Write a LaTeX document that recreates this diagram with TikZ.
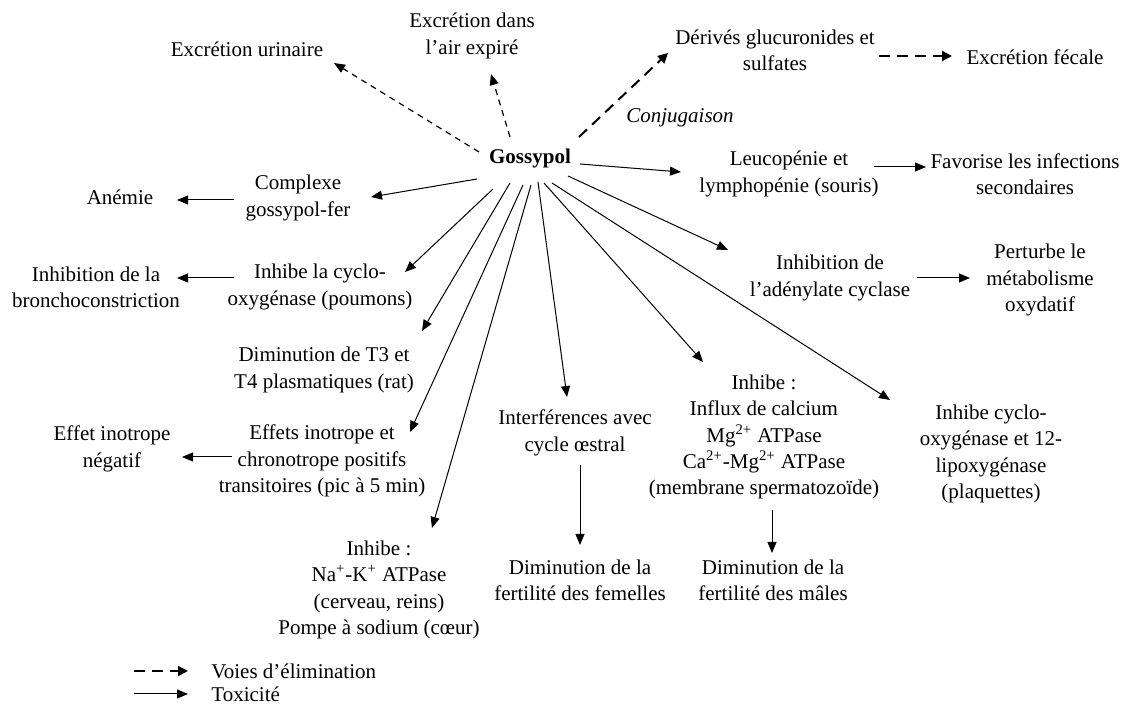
\documentclass[tikz,border=0pt]{standalone}
\usepackage{fontspec}
\setmainfont{Liberation Serif}
\usetikzlibrary{arrows.meta}
\begin{document}
\begin{tikzpicture}[x=0.5pt,y=-0.5pt,
  txt/.style={align=center, inner sep=0pt, font=\fontsize{10.5}{13.15}\selectfont},
  tox/.style={-{Triangle[length=5.5pt,width=4.5pt]}, line width=0.5pt},
  elim/.style={-{Triangle[length=5.5pt,width=4.5pt]}, line width=0.6pt, dash pattern=on 3pt off 2.5pt},
  elimthick/.style={-{Triangle[length=5pt,width=5pt]}, line width=1pt, dash pattern=on 5.5pt off 3.5pt},
]
\useasboundingbox (0,0) rectangle (1126,704);

% central compound
\node[txt] (gos) at (530,158) {\textbf{Gossypol}};

% elimination routes
\node[txt] (uri) at (247,49) {Excrétion urinaire};
\node[txt] (air) at (472,36) {Excrétion dans\\l’air expiré};
\node[txt] (der) at (775,50) {Dérivés glucuronides et\\sulfates};
\node[txt] (fec) at (1035,57) {Excrétion fécale};
\node[txt] (conj) at (680,118) {\textit{Conjugaison}};

% toxic effects
\node[txt] (leu) at (789,174) {Leucopénie et\\lymphopénie (souris)};
\node[txt] (fav) at (1025,174) {Favorise les infections\\secondaires};
\node[txt] (cplx) at (298,198) {Complexe\\gossypol-fer};
\node[txt] (anem) at (120,197) {Anémie};
\node[txt] (cyc) at (320,287) {Inhibe la cyclo-\\oxygénase (poumons)};
\node[txt] (bron) at (96,287) {Inhibition de la\\bronchoconstriction};
\node[txt] (adc) at (830,278) {Inhibition de\\l’adénylate cyclase};
\node[txt] (oxy) at (1040,280) {Perturbe le\\métabolisme\\oxydatif};
\node[txt] (t3) at (324,370) {Diminution de T3 et\\T4 plasmatiques (rat)};
\node[txt] (eff) at (322,461) {Effets inotrope et\\chronotrope positifs\\transitoires (pic à 5 min)};
\node[txt] (neg) at (112,449) {Effet inotrope\\négatif};
\node[txt] (nak) at (379,590) {Inhibe~:\\Na\textsuperscript{+}-K\textsuperscript{+} ATPase\\(cerveau, reins)\\Pompe à sodium (cœur)};
\node[txt] (cyl) at (575,433) {Interférences avec\\cycle œstral};
\node[txt] (fem) at (580,580) {Diminution de la\\fertilité des femelles};
\node[txt] (mem) at (764,437) {Inhibe~:\\Influx de calcium\\Mg\textsuperscript{2+} ATPase\\Ca\textsuperscript{2+}-Mg\textsuperscript{2+} ATPase\\(membrane spermatozoïde)};
\node[txt] (mal) at (773,580) {Diminution de la\\fertilité des mâles};
\node[txt] (lip) at (991,454) {Inhibe cyclo-\\oxygénase et 12-\\lipoxygénase\\(plaquettes)};

% elimination arrows
\draw[elim] ([shift={(-51,-6)}]gos.center) -- ([shift={(87,14)}]uri.center);
\draw[elim] ([shift={(-20,-21)}]gos.center) -- ([shift={(19,38)}]air.center);
\draw[elimthick] ([shift={(49,-21)}]gos.center) -- ([shift={(-107,3)}]der.center);
\draw[elimthick] ([shift={(104,6)}]der.center) -- ([shift={(-83,-1)}]fec.center);

% toxicity arrows from the compound
\draw[tox] ([shift={(50,6)}]gos.center) -- ([shift={(-108,-2)}]leu.center);
\draw[tox] ([shift={(-53,21)}]gos.center) -- ([shift={(73,-1)}]cplx.center);
\draw[tox] ([shift={(-37,31)}]gos.center) -- ([shift={(85,-15)}]cyc.center);
\draw[tox] ([shift={(-20,25)}]gos.center) -- ([shift={(98,-39)}]t3.center);
\draw[tox] ([shift={(-7,27)}]gos.center) -- ([shift={(88,-29)}]eff.center);
\draw[tox] ([shift={(1,27)}]gos.center) -- ([shift={(53,-62)}]nak.center);
\draw[tox] ([shift={(8,24)}]gos.center) -- ([shift={(-8,-36)}]cyl.center);
\draw[tox] ([shift={(14,25)}]gos.center) -- ([shift={(-61,-75)}]mem.center);
\draw[tox] ([shift={(22,25)}]gos.center) -- ([shift={(-101,-54)}]lip.center);
\draw[tox] ([shift={(38,18)}]gos.center) -- ([shift={(-102,-28)}]adc.center);

% secondary consequences
\draw[tox] ([shift={(85,-7)}]leu.center) -- ([shift={(-99,-7)}]fav.center);
\draw[tox] ([shift={(-64,2)}]cplx.center) -- ([shift={(57,3)}]anem.center);
\draw[tox] ([shift={(-86,-9)}]cyc.center) -- ([shift={(81,-9)}]bron.center);
\draw[tox] ([shift={(-90,-4)}]eff.center) -- ([shift={(70,8)}]neg.center);
\draw[tox] ([shift={(87,0)}]adc.center) -- ([shift={(-70,-2)}]oxy.center);
\draw[tox] ([shift={(5,32)}]cyl.center) -- ([shift={(0,-35)}]fem.center);
\draw[tox] ([shift={(8,73)}]mem.center) -- ([shift={(-1,-27)}]mal.center);

% legend
\coordinate (ld) at (134,671);
\coordinate (lt) at (134,694);
\node[txt, anchor=west] (lg1) at (211,671) {Voies d’élimination};
\node[txt, anchor=west] (lg2) at (211,694) {Toxicité};
\draw[elimthick] (ld) -- ([shift={(-23,0)}]lg1.west);
\draw[tox] (lt) -- ([shift={(-23,0)}]lg2.west);
\end{tikzpicture}
\end{document}
